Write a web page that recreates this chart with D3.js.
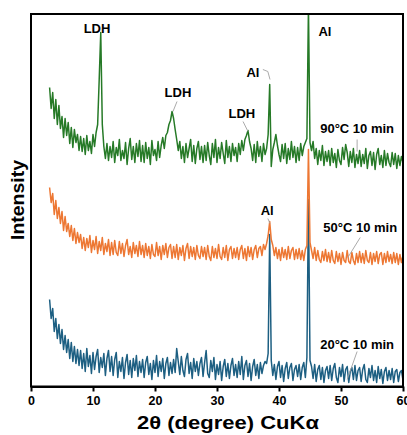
<!DOCTYPE html>
<html>
<head>
<meta charset="utf-8">
<script src="https://cdn.jsdelivr.net/npm/d3@7"></script>
<style>
  body { margin: 0; background: #fff; }
  svg { display: block; font-family: Arial, "Liberation Sans", sans-serif; }
</style>
</head>
<body>
<svg width="407" height="435"></svg>
<script>
// scan: 3 - 60 deg, step 0.25 deg
var scanStart = 3, scanEnd = 60, scanStep = 0.25;

// stacked intensities (a.u.)
var green90 = [
  299, 278, 294, 268, 287, 262, 281, 258, 270, 249, 268, 251, 264, 243, 259, 239, 257, 244, 252, 236,
  250, 235, 248, 232, 251, 236, 245, 233, 252, 240, 254, 262, 307, 354, 262, 240, 228, 243, 226, 240,
  229, 245, 224, 239, 231, 247, 226, 236, 228, 244, 222, 238, 248, 227, 240, 224, 243, 230, 246, 225,
  241, 224, 244, 228, 239, 222, 246, 231, 237, 226, 245, 229, 241, 249, 238, 251, 254, 262, 266, 275,
  268, 257, 247, 236, 245, 228, 240, 224, 243, 229, 238, 247, 225, 241, 223, 238, 245, 227, 240, 224,
  241, 226, 244, 231, 222, 243, 229, 247, 224, 239, 228, 244, 233, 223, 246, 229, 240, 225, 243, 231,
  239, 225, 243, 232, 246, 236, 247, 251, 256, 245, 238, 226, 242, 224, 245, 230, 240, 225, 243, 232,
  238, 252, 302, 220, 237, 244, 252, 241, 232, 225, 242, 228, 243, 223, 238, 227, 245, 229, 240, 224,
  239, 226, 243, 231, 240, 244, 248, 380, 244, 236, 245, 228, 238, 222, 236, 226, 241, 221, 235, 225,
  236, 221, 238, 224, 233, 219, 237, 226, 222, 239, 227, 242, 234, 220, 235, 224, 238, 219, 232, 223,
  236, 220, 232, 223, 238, 218, 231, 235, 221, 234, 217, 232, 238, 222, 231, 219, 236, 221, 233, 224,
  220, 234, 222, 233, 218, 231, 221, 230, 224
];
var orange50 = [
  199, 184, 193, 172, 186, 168, 179, 163, 175, 156, 170, 155, 163, 150, 161, 146, 158, 143, 154, 144,
  152, 138, 149, 136, 148, 139, 151, 134, 146, 137, 150, 133, 145, 136, 149, 132, 143, 135, 147, 131,
  144, 132, 146, 134, 131, 145, 133, 143, 130, 141, 147, 132, 140, 129, 144, 133, 141, 130, 145, 132,
  141, 129, 143, 131, 140, 128, 142, 132, 130, 144, 131, 140, 127, 141, 132, 143, 129, 139, 142, 128,
  140, 129, 142, 127, 139, 131, 141, 126, 138, 143, 128, 140, 130, 139, 127, 141, 131, 128, 140, 130,
  139, 127, 141, 130, 126, 140, 129, 138, 128, 142, 130, 127, 139, 129, 141, 126, 137, 140, 128, 138,
  129, 139, 127, 137, 141, 128, 138, 126, 140, 130, 139, 127, 137, 141, 129, 138, 140, 131, 142, 137,
  143, 151, 165, 147, 141, 131, 139, 128, 137, 126, 139, 129, 137, 127, 140, 128, 136, 139, 127, 137,
  128, 138, 127, 136, 126, 137, 141, 237, 144, 136, 128, 139, 126, 136, 127, 124, 135, 126, 137, 125,
  134, 124, 136, 126, 123, 135, 125, 133, 122, 134, 126, 124, 136, 125, 123, 134, 126, 122, 133, 124,
  135, 124, 133, 123, 136, 126, 124, 134, 122, 133, 125, 135, 123, 132, 134, 122, 133, 124, 135, 125,
  132, 123, 134, 124, 133, 122, 132, 124, 131
];
var blue20 = [
  87, 68, 78, 55, 68, 48, 62, 43, 57, 37, 51, 34, 47, 28, 44, 25, 40, 23, 37, 21,
  36, 18, 33, 15, 38, 20, 31, 13, 34, 17, 30, 37, 14, 29, 19, 33, 11, 28, 36, 15,
  30, 11, 27, 34, 9, 25, 15, 29, 8, 24, 32, 12, 26, 9, 28, 16, 31, 10, 25, 14,
  27, 9, 24, 30, 12, 23, 7, 26, 14, 31, 10, 25, 15, 28, 8, 23, 29, 11, 24, 13,
  27, 14, 38, 25, 12, 30, 16, 10, 27, 33, 13, 24, 8, 28, 15, 25, 11, 23, 29, 10,
  24, 36, 13, 9, 26, 15, 29, 7, 22, 12, 25, 6, 20, 27, 10, 23, 8, 21, 28, 11,
  22, 9, 25, 12, 30, 7, 21, 26, 10, 23, 6, 20, 27, 11, 22, 8, 24, 13, 21, 25,
  23, 33, 152, 26, 11, 22, 7, 20, 25, 9, 21, 5, 18, 24, 8, 19, 23, 6, 17, 21,
  10, 22, 7, 19, 24, 9, 29, 187, 26, 20, 8, 22, 5, 17, 21, 7, 19, 4, 16, 20,
  8, 21, 6, 18, 23, 9, 4, 19, 10, 22, 5, 17, 20, 4, 15, 19, 7, 21, 6, 16,
  19, 5, 17, 22, 7, 4, 18, 9, 21, 6, 16, 4, 20, 8, 17, 3, 15, 19, 6, 16,
  7, 18, 4, 15, 17, 5, 14, 16, 6
];

var xTicks = [0, 10, 20, 30, 40, 50, 60];

// peak / sample labels: text, angle, intensity (baseline)
var labelText  = ["LDH", "LDH", "LDH", "Al", "Al", "90\u00B0C 10 min", "Al", "50\u00B0C 10 min", "20\u00B0C 10 min"];
var labelAngle = [10.65, 23.7, 34.0, 35.8, 47.4, 52.6, 38.1, 53.1, 52.6];
var labelInt   = [354, 290, 269, 310, 351, 254, 172, 155, 38];

// leader lines: list of [angle, intensity] points
var leaders = [
  [[23.55, 285], [22.9, 275]],
  [[34.2, 265], [35.0, 255]],
  [[37.4, 317], [38.2, 315], [38.55, 307]],
  [[52.6, 247], [52.6, 235]],
  [[38.2, 168], [38.55, 163]],
  [[53.1, 149], [51.1, 129]],
  [[52.6, 35], [51.0, 7]]
];

var margin = {left: 31, right: 4, top: 14, bottom: 48.5};
var width = 407, height = 435;

var svg = d3.select("svg");

var x = d3.scaleLinear().domain([0, 60]).range([margin.left, width - margin.right]);
var y = d3.scaleLinear().domain([0, 372.5]).range([height - margin.bottom, margin.top]);

var angles = d3.range(scanStart, scanEnd + scanStep / 2, scanStep);

svg.append("clipPath").attr("id", "plotclip")
  .append("rect")
    .attr("x", x(0)).attr("y", y(372.5))
    .attr("width", x(60) - x(0)).attr("height", y(0) - y(372.5));

var line = d3.line()
  .x(function(d, i) { return x(angles[i]); })
  .y(function(d) { return y(d); });

var series = [
  {values: blue20, color: "#1d5f82"},
  {values: orange50, color: "#ed7733"},
  {values: green90, color: "#267a27"}
];

var plot = svg.append("g").attr("clip-path", "url(#plotclip)");
series.forEach(function(s) {
  plot.append("path")
    .datum(s.values)
    .attr("fill", "none")
    .attr("stroke", s.color)
    .attr("stroke-width", 1.5)
    .attr("stroke-linejoin", "round")
    .attr("d", line);
});

// frame
svg.append("rect")
  .attr("x", x(0)).attr("y", y(372.5))
  .attr("width", x(60) - x(0)).attr("height", y(0) - y(372.5))
  .attr("fill", "none")
  .attr("stroke", "#000")
  .attr("stroke-width", 2);

// x axis
var xAxis = svg.append("g")
  .attr("transform", "translate(0," + y(0) + ")")
  .call(d3.axisBottom(x).tickValues(xTicks).tickSize(5).tickSizeOuter(0).tickPadding(5));
xAxis.select(".domain").attr("stroke-width", 2);
xAxis.selectAll(".tick line").attr("stroke-width", 2);
xAxis.selectAll(".tick text")
  .attr("font-family", "Arial, 'Liberation Sans', sans-serif")
  .attr("font-size", 12.5)
  .attr("font-weight", "bold")
  .attr("fill", "#000");

// axis titles
svg.append("text")
  .attr("x", 137).attr("y", 429)
  .attr("font-size", 18)
  .attr("font-weight", "bold")
  .attr("textLength", 182)
  .attr("lengthAdjust", "spacingAndGlyphs")
  .text("2\u03B8 (degree) CuK\u03B1");

svg.append("text")
  .attr("transform", "translate(24,240) rotate(-90)")
  .attr("font-size", 18)
  .attr("font-weight", "bold")
  .attr("textLength", 80)
  .attr("lengthAdjust", "spacingAndGlyphs")
  .text("Intensity");

// leaders
var leaderLine = d3.line()
  .x(function(d) { return x(d[0]); })
  .y(function(d) { return y(d[1]); });
svg.selectAll(".leader")
  .data(leaders)
  .enter().append("path")
    .attr("class", "leader")
    .attr("fill", "none")
    .attr("stroke", "#a0a0a0")
    .attr("stroke-width", 0.9)
    .attr("d", leaderLine);

// labels
svg.selectAll(".lbl")
  .data(labelText)
  .enter().append("text")
    .attr("class", "lbl")
    .attr("x", function(d, i) { return x(labelAngle[i]); })
    .attr("y", function(d, i) { return y(labelInt[i]); })
    .attr("text-anchor", "middle")
    .attr("font-size", 13)
    .attr("font-weight", "bold")
    .text(function(d) { return d; });
</script>
</body>
</html>
